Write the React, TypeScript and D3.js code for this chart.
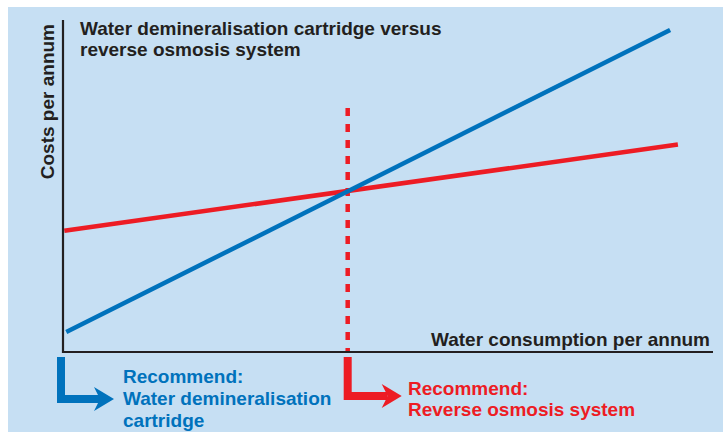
import React from 'react';
import * as d3 from 'd3';

// conceptual break-even chart (0..100 units)
const cartridgeConsumption = [0.5, 93.4];
const cartridgeCosts = [6, 97];
const osmosisConsumption = [0.2, 94.6];
const osmosisCosts = [36.5, 62.5];
const breakEven = 43.8;
const breakEvenTop = 73.5;

const titleLines = ['Water demineralisation cartridge versus', 'reverse osmosis system'];
const leftNote = ['Recommend:', 'Water demineralisation', 'cartridge'];
const rightNote = ['Recommend:', 'Reverse osmosis system'];

const BLUE = '#0072bc';
const RED = '#ed1c24';
const INK = '#231f20';
const BG = '#c6dff3';
const FONT = '"Liberation Sans", Arial, Helvetica, sans-serif';

export default function App() {
    const width = 723, height = 432;
    const margin = { top: 20, right: 10, bottom: 80, left: 63 };

    const x = d3.scaleLinear().domain([0, 100]).range([margin.left, width - margin.right]);
    const y = d3.scaleLinear().domain([0, 100]).range([height - margin.bottom, margin.top]);

    const line = d3.line<[number, number]>()
        .x(d => x(d[0]))
        .y(d => y(d[1]));

    const cartridge = cartridgeConsumption.map((c, i) => [c, cartridgeCosts[i]] as [number, number]);
    const osmosis = osmosisConsumption.map((c, i) => [c, osmosisCosts[i]] as [number, number]);

    const x0 = x(0), xb = x(breakEven), y0 = y(0);

    // L-shaped arrows below the x axis
    const arrow = (sx: number, ay: number, len: number) => {
        const tip = sx + len;
        return {
            stem: `M${sx},${y0 + 5}V${ay}H${tip - 14}`,
            head: `M${tip - 20},${ay - 12}L${tip},${ay}L${tip - 20},${ay + 12}L${tip - 14},${ay}Z`,
        };
    };
    const leftArrow = arrow(x0 - 2, y0 + 47, 53);
    const rightArrow = arrow(xb, y0 + 44, 54);

    return (
        <div style={{ position: 'absolute', left: 0, top: 0 }}>
            <svg width={width} height={height} style={{ display: 'block' }}>
                <rect x={8} y={7} width={width - 8} height={height - 7} fill={BG} />

                <g fontFamily={FONT} fontWeight="bold" fontSize={19}>
                    {titleLines.map((t, i) => (
                        <text key={t} x={80} y={35 + i * 21} fill={INK}>{t}</text>
                    ))}
                    <text transform={`translate(54,24) rotate(-90)`} textAnchor="end" fill={INK}>
                        Costs per annum
                    </text>
                    <text x={710} y={346} textAnchor="end" fill={INK}>Water consumption per annum</text>
                </g>

                <line x1={xb} x2={xb} y1={y(breakEvenTop)} y2={y0} stroke={RED}
                    strokeWidth={4.5} strokeDasharray="8,8" />

                <path d={line(osmosis) || ''} fill="none" stroke={RED} strokeWidth={4.5} />
                <path d={line(cartridge) || ''} fill="none" stroke={BLUE} strokeWidth={4.5} />

                <path d={`M${x0},${margin.top}V${y0}H${width - margin.right}`}
                    fill="none" stroke={INK} strokeWidth={2.2} />

                <path d={leftArrow.stem} fill="none" stroke={BLUE} strokeWidth={8} />
                <path d={leftArrow.head} fill={BLUE} />
                <path d={rightArrow.stem} fill="none" stroke={RED} strokeWidth={8} />
                <path d={rightArrow.head} fill={RED} />

                <g fontFamily={FONT} fontWeight="bold" fontSize={19}>
                    {leftNote.map((t, i) => (
                        <text key={t} x={123} y={383 + i * 22} fill={BLUE}>{t}</text>
                    ))}
                    {rightNote.map((t, i) => (
                        <text key={t} x={408} y={395 + i * 21} fill={RED}>{t}</text>
                    ))}
                </g>
            </svg>
        </div>
    );
}
